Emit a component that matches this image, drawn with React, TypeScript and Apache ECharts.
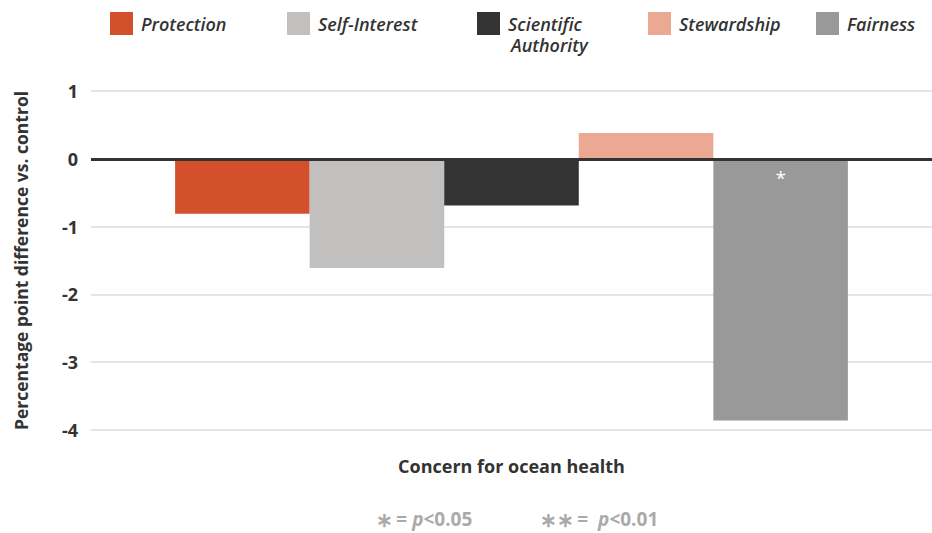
import React, { useEffect, useRef } from "react";
import * as echarts from "echarts";

const categories = ["Concern for ocean health"];
const seriesNames = ["Protection", "Self-Interest", "Scientific Authority", "Stewardship", "Fairness"];
const seriesValues = [-0.81, -1.61, -0.69, 0.38, -3.86];
const significance = ["", "", "", "", "*"];
const seriesColors = ["#d44f2c", "#c1c0be", "#333333", "#eba893", "#999999"];
const yTicks = { min: -4, max: 1, interval: 1 };
const legendLefts = [110, 287, 477, 648, 816];

const FONT = "'Open Sans', 'Noto Sans', sans-serif";

export default function App() {
  const ref = useRef<HTMLDivElement>(null);
  useEffect(() => {
    if (!ref.current) return;
    const chart = echarts.init(ref.current, null, { renderer: "svg" });
    const legends = seriesNames.map((n, i) => ({
      data: [n],
      left: legendLefts[i],
      top: 12,
      itemWidth: 23,
      itemHeight: 23,
      icon: "rect",
      padding: 0,
      formatter: (name: string) => (name === "Scientific Authority" ? "Scientific" : name),
      textStyle: {
        color: "#333333",
        fontFamily: FONT,
        fontStyle: "italic",
        fontWeight: 600,
        fontSize: 18,
        padding: [0, 0, 0, 3],
      },
      selectedMode: false,
    }));
    const series = seriesNames.map((n, i) => ({
      name: n,
      type: "bar",
      data: [seriesValues[i]],
      barGap: "0%",
      barCategoryGap: "20%",
      itemStyle: { color: seriesColors[i] },
      label: {
        show: significance[i] !== "",
        position: "insideTop",
        formatter: () => significance[i],
        color: "#ffffff",
        fontSize: 19,
        fontFamily: FONT,
        distance: 10,
      },
      ...(i === 0
        ? {
            markLine: {
              silent: true,
              symbol: "none",
              label: { show: false },
              lineStyle: { color: "#333333", width: 3, type: "solid" },
              data: [{ yAxis: 0 }],
            },
          }
        : {}),
    }));
    chart.setOption({
      animation: false,
      textStyle: { fontFamily: FONT },
      legend: legends,
      grid: { left: 91, right: -5, top: 91, bottom: 103, containLabel: false },
      xAxis: {
        type: "category",
        data: categories,
        axisLine: { show: false, onZero: false },
        axisTick: { show: false },
        axisLabel: {
          margin: 27,
          color: "#333333",
          fontWeight: "bold",
          fontSize: 18,
          fontFamily: FONT,
        },
      },
      yAxis: {
        type: "value",
        min: yTicks.min,
        max: yTicks.max,
        interval: yTicks.interval,
        name: "Percentage point difference vs. control",
        nameLocation: "middle",
        nameGap: 61,
        nameTextStyle: { color: "#333333", fontWeight: "bold", fontSize: 17.5, fontFamily: FONT },
        axisLine: { show: false },
        axisTick: { show: false },
        axisLabel: { margin: 13, color: "#333333", fontWeight: "bold", fontSize: 18, fontFamily: FONT },
        splitLine: { lineStyle: { color: "#dddddd", width: 1.5 } },
      },
      graphic: [
        {
          type: "text",
          left: 511,
          top: 36,
          style: {
            text: "Authority",
            fill: "#333333",
            font: `italic 600 18px ${FONT}`,
          },
        },
        {
          type: "text",
          left: 376,
          top: 509,
          style: {
            text: "{a|∗} {n|= }{p|p}{n|<0.05}",
            rich: {
              a: { fill: "#aaaaaa", font: `bold 20px ${FONT}` },
              n: { fill: "#aaaaaa", font: `bold 19px ${FONT}` },
              p: { fill: "#aaaaaa", font: `italic bold 19px ${FONT}` },
            },
          },
        },
        {
          type: "text",
          left: 540,
          top: 509,
          style: {
            text: "{a|∗∗} {n|=  }{p|p}{n|<0.01}",
            rich: {
              a: { fill: "#aaaaaa", font: `bold 20px ${FONT}` },
              n: { fill: "#aaaaaa", font: `bold 19px ${FONT}` },
              p: { fill: "#aaaaaa", font: `italic bold 19px ${FONT}` },
            },
          },
        },
      ],
      series,
    });
    return () => chart.dispose();
  }, []);
  return <div ref={ref} style={{ width: 932, height: 533, position: "absolute", left: 0, top: 0 }} />;
}
